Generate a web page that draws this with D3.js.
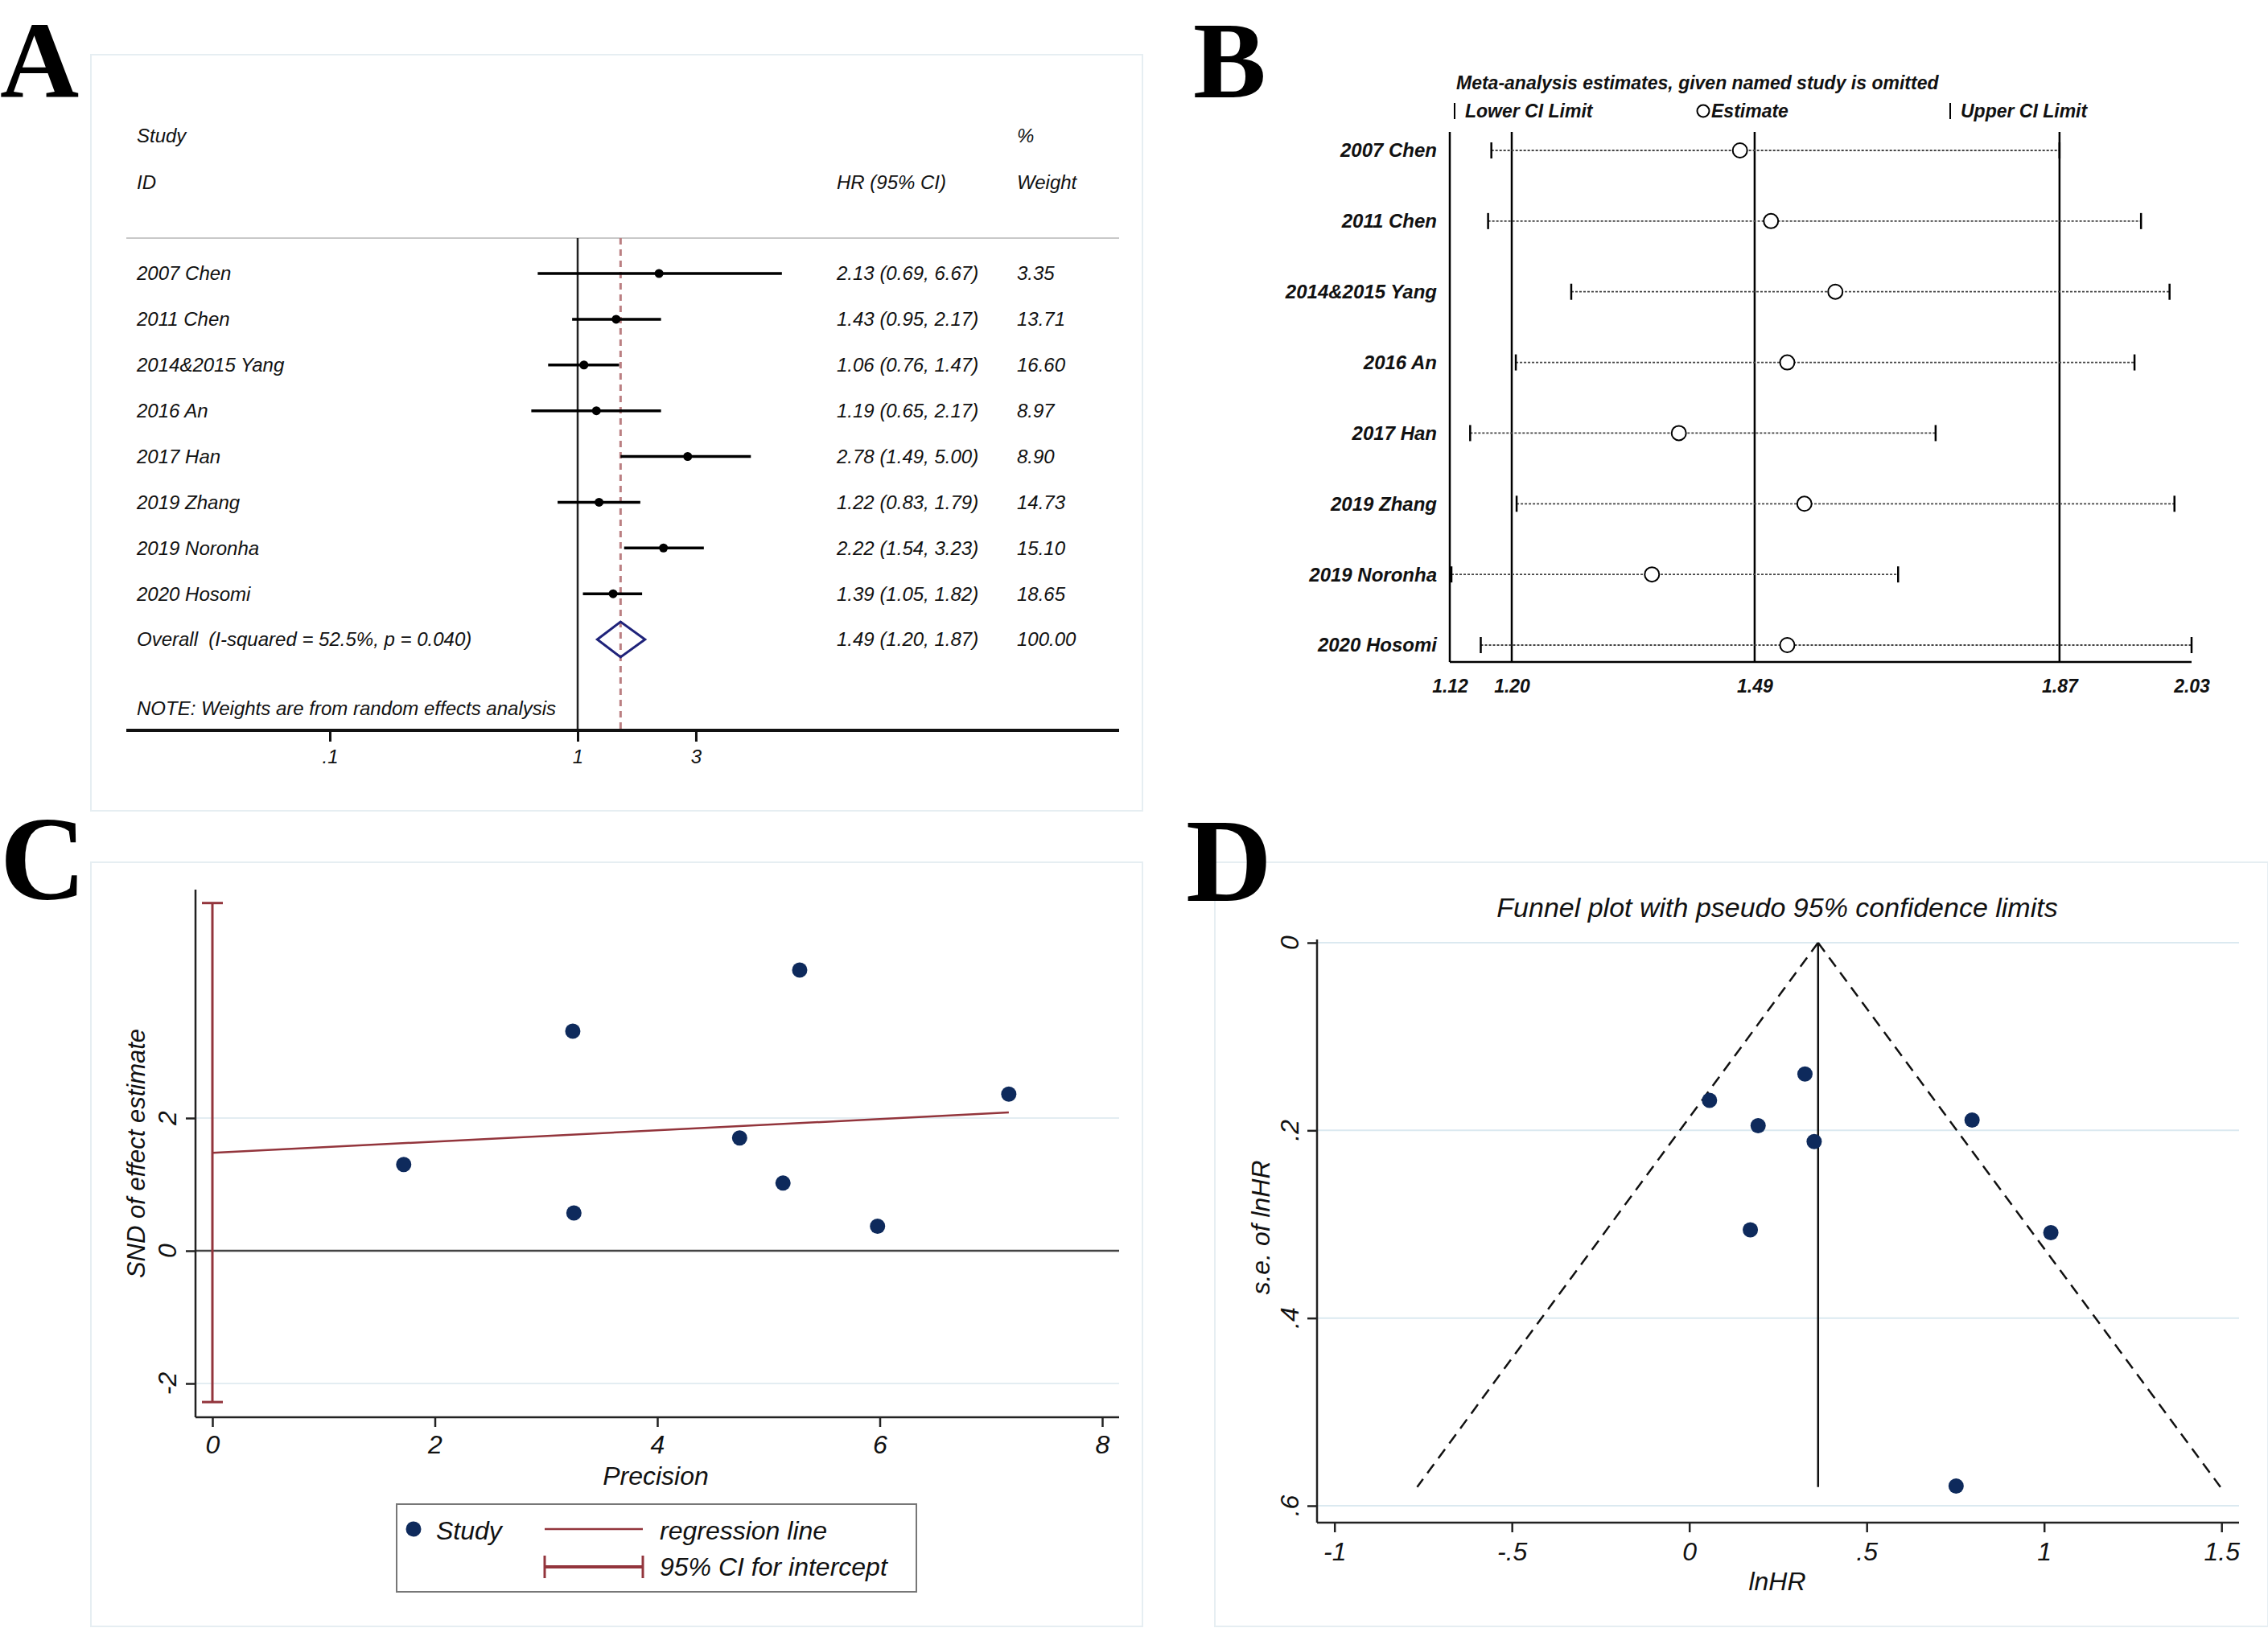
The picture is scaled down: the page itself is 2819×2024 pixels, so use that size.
<!DOCTYPE html>
<html>
<head>
<meta charset="utf-8">
<script src="https://cdn.jsdelivr.net/npm/d3@7"></script>
<style>
  body { margin: 0; background: #fff; }
  text { font-family: "Liberation Sans", Arial, sans-serif; font-style: italic; fill: #111; white-space: pre; }
</style>
</head>
<body>
<script>
// ---- data ----
const studies = ["2007 Chen", "2011 Chen", "2014&2015 Yang", "2016 An", "2017 Han", "2019 Zhang", "2019 Noronha", "2020 Hosomi"];
const hr = [2.13, 1.43, 1.06, 1.19, 2.78, 1.22, 2.22, 1.39];
const hrLow = [0.69, 0.95, 0.76, 0.65, 1.49, 0.83, 1.54, 1.05];
const hrHigh = [6.67, 2.17, 1.47, 2.17, 5.00, 1.79, 3.23, 1.82];
const weights = [3.35, 13.71, 16.60, 8.97, 8.90, 14.73, 15.10, 18.65];
const overallHR = [1.49, 1.20, 1.87];      // estimate, low, high
const overallWeight = 100;
const overallLabel = "Overall  (I-squared = 52.5%, p = 0.040)";
const forestTicks = [0.1, 1, 3];

// B: leave-one-out
const omitLow = [1.171, 1.167, 1.269, 1.201, 1.145, 1.202, 1.122, 1.158];
const omitEst = [1.476, 1.514, 1.593, 1.534, 1.401, 1.555, 1.368, 1.534];
const omitHigh = [1.868, 1.968, 2.003, 1.960, 1.716, 2.009, 1.670, 2.030];
const sensRefs = [1.196, 1.494, 1.868];
const sensTicks = [1.12, 1.196, 1.494, 1.868, 2.03];

// C: Egger
const precision = [1.72, 3.24, 3.25, 4.74, 5.28, 5.13, 5.98, 7.16];
const snd = [1.30, 3.31, 0.57, 1.70, 4.23, 1.02, 0.37, 2.36];
const eggerLine = [1.475, 0.085];          // intercept, slope
const eggerCI = [-2.28, 5.24];
const eggerXTicks = [0, 2, 4, 6, 8];
const eggerYTicks = [-2, 0, 2];

// D: funnel
const lnHR = [0.752, 0.326, 0.057, 0.172, 1.019, 0.194, 0.797, 0.352];
const seLnHR = [0.579, 0.140, 0.168, 0.306, 0.309, 0.195, 0.189, 0.212];
const funnelCentre = 0.363;
const funnelLeft = [[0.363, 0], [-0.767, 0.58]];
const funnelRight = [[0.363, 0], [1.497, 0.58]];
const funnelXTicks = [-1, -0.5, 0, 0.5, 1, 1.5];
const funnelYTicks = [0, 0.2, 0.4, 0.6];

const stataFmt = d => { let s = String(+d.toFixed(2)); return s.replace(/^0\./, ".").replace(/^-0\./, "-."); };

const svg = d3.select("body").append("svg").attr("width", 2819).attr("height", 2024);
svg.append("rect").attr("width", 2819).attr("height", 2024).attr("fill", "#fff");

// panel frames
[[113, 68, 1307, 940], [113, 1072, 1307, 950], [1510, 1072, 1309, 950]].forEach(f => {
  svg.append("rect").attr("x", f[0]).attr("y", f[1]).attr("width", f[2]).attr("height", f[3])
    .attr("fill", "none").attr("stroke", "#e6eef2").attr("stroke-width", 2);
});

// panel letters
[["A", 0, 121, 136], ["B", 1483, 121, 136], ["C", 0, 1118, 148], ["D", 1474, 1120, 148]].forEach(l => {
  svg.append("text").text(l[0]).attr("x", l[1]).attr("y", l[2])
    .style("font-family", "'Liberation Serif', 'Times New Roman', serif")
    .style("font-style", "normal").style("font-weight", "bold").style("font-size", l[3] + "px").style("fill", "#000");
});

// ================= A: forest plot =================
const gA = svg.append("g");
const xA = d3.scaleLog().domain([0.1, 1]).range([410, 718]);
const rowA = d3.scalePoint().domain(d3.range(studies.length + 1)).range([340, 795]);
const fmt2 = d3.format(".2f");
const aTxt = (t, x, y, anchor) => gA.append("text").text(t).attr("x", x).attr("y", y).attr("dy", "0.35em")
  .attr("text-anchor", anchor || "start").style("font-size", "24px");

aTxt("Study", 170, 169); aTxt("ID", 170, 227);
aTxt("HR (95% CI)", 1040, 227);
aTxt("%", 1264, 169); aTxt("Weight", 1264, 227);
gA.append("line").attr("x1", 157).attr("x2", 1391).attr("y1", 296).attr("y2", 296)
  .attr("stroke", "#c8c8c8").attr("stroke-width", 2);

gA.append("line").attr("x1", xA(1)).attr("x2", xA(1)).attr("y1", 296).attr("y2", 908)
  .attr("stroke", "#222").attr("stroke-width", 2.5);
gA.append("line").attr("x1", xA(overallHR[0])).attr("x2", xA(overallHR[0])).attr("y1", 296).attr("y2", 908)
  .attr("stroke", "#bb7f82").attr("stroke-width", 3).attr("stroke-dasharray", "8 6");

studies.forEach((s, i) => {
  const y = rowA(i);
  gA.append("line").attr("x1", xA(hrLow[i])).attr("x2", xA(hrHigh[i])).attr("y1", y).attr("y2", y)
    .attr("stroke", "#000").attr("stroke-width", 3.5);
  gA.append("circle").attr("cx", xA(hr[i])).attr("cy", y).attr("r", 5.5).attr("fill", "#000");
  aTxt(s, 170, y);
  aTxt(`${fmt2(hr[i])} (${fmt2(hrLow[i])}, ${fmt2(hrHigh[i])})`, 1040, y);
  aTxt(fmt2(weights[i]), 1264, y);
});
const yo = rowA(studies.length);
gA.append("path")
  .attr("d", d3.line()([[xA(overallHR[1]), yo], [xA(overallHR[0]), yo - 22], [xA(overallHR[2]), yo], [xA(overallHR[0]), yo + 22]]) + "Z")
  .attr("fill", "none").attr("stroke", "#1f237a").attr("stroke-width", 3);
aTxt(overallLabel, 170, yo);
aTxt(`${fmt2(overallHR[0])} (${fmt2(overallHR[1])}, ${fmt2(overallHR[2])})`, 1040, yo);
aTxt(fmt2(overallWeight), 1264, yo);
aTxt("NOTE: Weights are from random effects analysis", 170, 881);

gA.append("line").attr("x1", 157).attr("x2", 1391).attr("y1", 908).attr("y2", 908)
  .attr("stroke", "#111").attr("stroke-width", 4);
const axA = gA.append("g").attr("transform", "translate(0,908)")
  .call(d3.axisBottom(xA).tickValues(forestTicks).tickFormat(stataFmt).tickSize(14));
axA.select(".domain").remove();
axA.selectAll("line").attr("stroke", "#111").attr("stroke-width", 3);
axA.selectAll("text").attr("y", 24).style("font-size", "24px").style("font-family", null);

// ================= B: sensitivity =================
const gB = svg.append("g");
const xB = d3.scaleLinear().domain([1.12, 2.03]).range([1802, 2724]);
const rowB = d3.scalePoint().domain(studies).range([187, 802]);
const bStyle = sel => sel.style("font-weight", "bold").style("font-size", "23px");

bStyle(gB.append("text").text("Meta-analysis estimates, given named study is omitted").attr("x", 1810).attr("y", 103).attr("dy", "0.35em"));
gB.append("line").attr("x1", 1808).attr("x2", 1808).attr("y1", 128).attr("y2", 148).attr("stroke", "#000").attr("stroke-width", 2);
bStyle(gB.append("text").text("Lower CI Limit").attr("x", 1821).attr("y", 138).attr("dy", "0.35em"));
gB.append("circle").attr("cx", 2117).attr("cy", 138).attr("r", 7.5).attr("fill", "#fff").attr("stroke", "#000").attr("stroke-width", 2);
bStyle(gB.append("text").text("Estimate").attr("x", 2127).attr("y", 138).attr("dy", "0.35em"));
gB.append("line").attr("x1", 2424).attr("x2", 2424).attr("y1", 128).attr("y2", 148).attr("stroke", "#000").attr("stroke-width", 2);
bStyle(gB.append("text").text("Upper CI Limit").attr("x", 2437).attr("y", 138).attr("dy", "0.35em"));

gB.append("line").attr("x1", xB(1.12)).attr("x2", xB(1.12)).attr("y1", 164).attr("y2", 823).attr("stroke", "#000").attr("stroke-width", 2.5);
gB.append("line").attr("x1", xB(1.12)).attr("x2", xB(2.03)).attr("y1", 823).attr("y2", 823).attr("stroke", "#000").attr("stroke-width", 2.5);
sensRefs.forEach(v => {
  gB.append("line").attr("x1", xB(v)).attr("x2", xB(v)).attr("y1", 164).attr("y2", 823).attr("stroke", "#000").attr("stroke-width", 2.5);
});

studies.forEach((s, i) => {
  const y = rowB(s);
  gB.append("line").attr("x1", xB(omitLow[i])).attr("x2", xB(omitHigh[i])).attr("y1", y).attr("y2", y)
    .attr("stroke", "#444").attr("stroke-width", 1.8).attr("stroke-dasharray", "3 2");
  [omitLow[i], omitHigh[i]].forEach(v => {
    gB.append("line").attr("x1", xB(v)).attr("x2", xB(v)).attr("y1", y - 10).attr("y2", y + 10)
      .attr("stroke", "#000").attr("stroke-width", 2.5);
  });
  gB.append("circle").attr("cx", xB(omitEst[i])).attr("cy", y).attr("r", 9)
    .attr("fill", "#fff").attr("stroke", "#000").attr("stroke-width", 2);
  bStyle(gB.append("text").text(s).attr("x", 1786).attr("y", y).attr("dy", "0.35em").attr("text-anchor", "end")).style("font-size", "24px");
});
const axB = gB.append("g").attr("transform", "translate(0,823)")
  .call(d3.axisBottom(xB).tickValues(sensTicks).tickFormat(d3.format(".2f")).tickSize(0));
axB.select(".domain").remove();
axB.selectAll("text").attr("y", 22).style("font-family", null).style("font-size", "23px").style("font-weight", "bold");

// ================= C: Egger test =================
const gC = svg.append("g");
const xC = d3.scaleLinear().domain([0, 8]).range([264, 1370]);
const yC = d3.scaleLinear().domain([0, 2]).range([1555, 1390]);
const maroon = "#93353c", navy = "#0e2a5c";

eggerYTicks.filter(v => v !== 0).forEach(v => {
  gC.append("line").attr("x1", 243).attr("x2", 1391).attr("y1", yC(v)).attr("y2", yC(v)).attr("stroke", "#e3edf2").attr("stroke-width", 2);
});
gC.append("line").attr("x1", 243).attr("x2", 1391).attr("y1", yC(0)).attr("y2", yC(0)).attr("stroke", "#444").attr("stroke-width", 2.5);
gC.append("line").attr("x1", 243).attr("x2", 243).attr("y1", 1106).attr("y2", 1762).attr("stroke", "#222").attr("stroke-width", 2.5);
gC.append("line").attr("x1", 243).attr("x2", 1391).attr("y1", 1762).attr("y2", 1762).attr("stroke", "#222").attr("stroke-width", 2.5);

const axCx = gC.append("g").attr("transform", "translate(0,1762)")
  .call(d3.axisBottom(xC).tickValues(eggerXTicks).tickFormat(stataFmt).tickSize(12));
axCx.select(".domain").remove();
axCx.selectAll("line").attr("stroke", "#222").attr("stroke-width", 2.5);
axCx.selectAll("text").attr("y", 22).style("font-family", null).style("font-size", "32px");

const axCy = gC.append("g").attr("transform", "translate(243,0)")
  .call(d3.axisLeft(yC).tickValues(eggerYTicks).tickFormat("").tickSize(12));
axCy.select(".domain").remove();
axCy.selectAll("line").attr("stroke", "#222").attr("stroke-width", 2.5);
eggerYTicks.forEach(v => {
  gC.append("text").text(stataFmt(v)).attr("transform", `translate(208,${yC(v)}) rotate(-90)`)
    .attr("text-anchor", "middle").attr("dy", "0.35em").style("font-size", "32px");
});

// CI for intercept
gC.append("line").attr("x1", xC(0)).attr("x2", xC(0)).attr("y1", yC(eggerCI[1])).attr("y2", yC(eggerCI[0])).attr("stroke", maroon).attr("stroke-width", 3);
eggerCI.forEach(v => {
  gC.append("line").attr("x1", xC(0) - 13).attr("x2", xC(0) + 13).attr("y1", yC(v)).attr("y2", yC(v)).attr("stroke", maroon).attr("stroke-width", 3);
});
const xMax = d3.max(precision);
gC.append("line").attr("x1", xC(0)).attr("x2", xC(xMax))
  .attr("y1", yC(eggerLine[0])).attr("y2", yC(eggerLine[0] + eggerLine[1] * xMax))
  .attr("stroke", maroon).attr("stroke-width", 2.5);
gC.selectAll("circle.pt").data(precision).enter().append("circle").attr("class", "pt")
  .attr("cx", d => xC(d)).attr("cy", (d, i) => yC(snd[i])).attr("r", 9.5).attr("fill", navy);

gC.append("text").text("Precision").attr("x", 815).attr("y", 1835).attr("dy", "0.35em").attr("text-anchor", "middle").style("font-size", "32px");
gC.append("text").text("SND of effect estimate").attr("transform", "translate(169,1434) rotate(-90)")
  .attr("text-anchor", "middle").attr("dy", "0.35em").style("font-size", "31px");

// legend
gC.append("rect").attr("x", 493).attr("y", 1870).attr("width", 646).attr("height", 109)
  .attr("fill", "#fff").attr("stroke", "#777").attr("stroke-width", 2);
gC.append("circle").attr("cx", 514).attr("cy", 1901).attr("r", 9.5).attr("fill", navy);
gC.append("text").text("Study").attr("x", 542).attr("y", 1903).attr("dy", "0.35em").style("font-size", "32px");
gC.append("line").attr("x1", 677).attr("x2", 799).attr("y1", 1901).attr("y2", 1901).attr("stroke", maroon).attr("stroke-width", 2.5);
gC.append("text").text("regression line").attr("x", 820).attr("y", 1903).attr("dy", "0.35em").style("font-size", "32px");
gC.append("line").attr("x1", 677).attr("x2", 799).attr("y1", 1948).attr("y2", 1948).attr("stroke", maroon).attr("stroke-width", 4);
[677, 799].forEach(x => gC.append("line").attr("x1", x).attr("x2", x).attr("y1", 1934).attr("y2", 1962).attr("stroke", maroon).attr("stroke-width", 3));
gC.append("text").text("95% CI for intercept").attr("x", 820).attr("y", 1948).attr("dy", "0.35em").style("font-size", "32px");

// ================= D: funnel plot =================
const gD = svg.append("g");
const xD = d3.scaleLinear().domain([0, 1]).range([2099.7, 2540.7]);
const yD = d3.scaleLinear().domain([0, 0.6]).range([1172, 1872]);

funnelYTicks.forEach(v => {
  gD.append("line").attr("x1", 1637).attr("x2", 2783).attr("y1", yD(v)).attr("y2", yD(v)).attr("stroke", "#dbe9f0").attr("stroke-width", 2);
});
gD.append("line").attr("x1", 1637).attr("x2", 1637).attr("y1", 1168).attr("y2", 1893).attr("stroke", "#222").attr("stroke-width", 2.5);
gD.append("line").attr("x1", 1637).attr("x2", 2783).attr("y1", 1893).attr("y2", 1893).attr("stroke", "#222").attr("stroke-width", 2.5);

const axDx = gD.append("g").attr("transform", "translate(0,1893)")
  .call(d3.axisBottom(xD).tickValues(funnelXTicks).tickFormat(stataFmt).tickSize(12));
axDx.select(".domain").remove();
axDx.selectAll("line").attr("stroke", "#222").attr("stroke-width", 2.5);
axDx.selectAll("text").attr("y", 24).style("font-family", null).style("font-size", "32px");
const axDy = gD.append("g").attr("transform", "translate(1637,0)")
  .call(d3.axisLeft(yD).tickValues(funnelYTicks).tickFormat("").tickSize(12));
axDy.select(".domain").remove();
axDy.selectAll("line").attr("stroke", "#222").attr("stroke-width", 2.5);
funnelYTicks.forEach(v => {
  gD.append("text").text(stataFmt(v)).attr("transform", `translate(1603,${yD(v)}) rotate(-90)`)
    .attr("text-anchor", "middle").attr("dy", "0.35em").style("font-size", "32px");
});

const lineD = d3.line().x(d => xD(d[0])).y(d => yD(d[1]));
[funnelLeft, funnelRight].forEach(seg => {
  gD.append("path").attr("d", lineD(seg)).attr("fill", "none").attr("stroke", "#111")
    .attr("stroke-width", 2.5).attr("stroke-dasharray", "14 9");
});
gD.append("line").attr("x1", xD(funnelCentre)).attr("x2", xD(funnelCentre))
  .attr("y1", yD(0)).attr("y2", yD(funnelLeft[1][1])).attr("stroke", "#111").attr("stroke-width", 2.5);
gD.selectAll("circle.pt").data(lnHR).enter().append("circle").attr("class", "pt")
  .attr("cx", d => xD(d)).attr("cy", (d, i) => yD(seLnHR[i])).attr("r", 9.5).attr("fill", navy);

gD.append("text").text("Funnel plot with pseudo 95% confidence limits").attr("x", 2209).attr("y", 1128)
  .attr("dy", "0.35em").attr("text-anchor", "middle").style("font-size", "34px");
gD.append("text").text("lnHR").attr("x", 2209).attr("y", 1966).attr("dy", "0.35em").attr("text-anchor", "middle").style("font-size", "32px");
gD.append("text").text("s.e. of lnHR").attr("transform", "translate(1567,1526) rotate(-90)")
  .attr("text-anchor", "middle").attr("dy", "0.35em").style("font-size", "32px");
</script>
</body>
</html>
